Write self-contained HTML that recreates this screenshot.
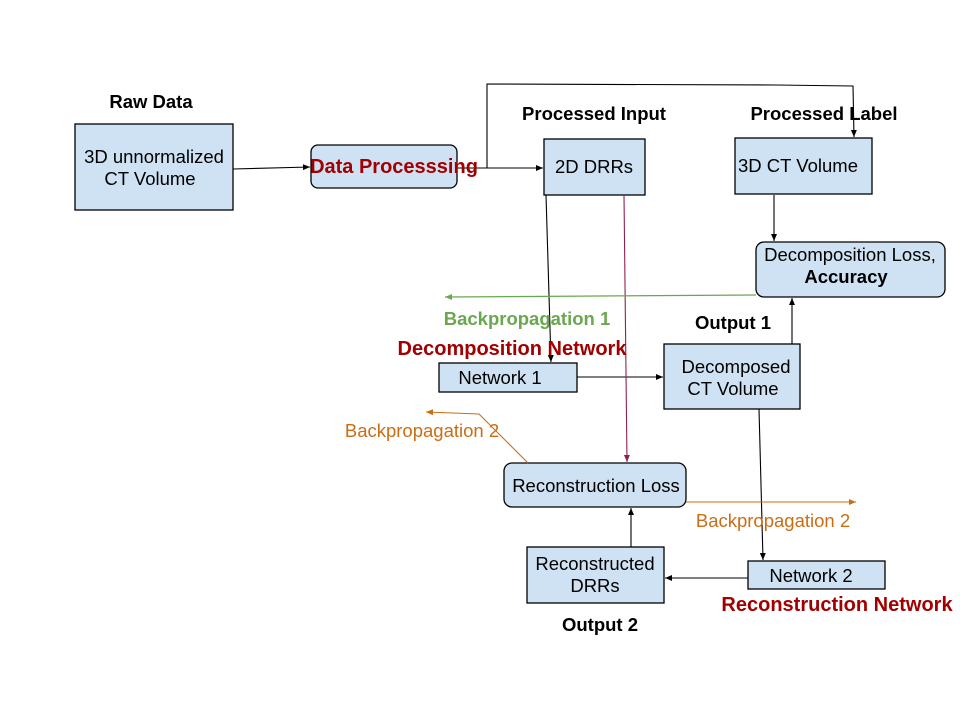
<!DOCTYPE html>
<html><head><meta charset="utf-8"><style>body{margin:0;background:#fff}svg{display:block}text{font-family:"Liberation Sans",sans-serif}</style></head><body>
<svg width="960" height="720" viewBox="0 0 960 720" xmlns="http://www.w3.org/2000/svg">
<defs>
<marker id="k" markerWidth="8" markerHeight="8" refX="7" refY="4" orient="auto" markerUnits="userSpaceOnUse"><path d="M0,1 L7,4 L0,7z" fill="#000"/></marker>
<marker id="g" markerWidth="8" markerHeight="8" refX="7" refY="4" orient="auto" markerUnits="userSpaceOnUse"><path d="M0,1 L7,4 L0,7z" fill="#6aa84f"/></marker>
<marker id="o" markerWidth="8" markerHeight="8" refX="7" refY="4" orient="auto" markerUnits="userSpaceOnUse"><path d="M0,1 L7,4 L0,7z" fill="#cc6d14"/></marker>
<marker id="m" markerWidth="8" markerHeight="8" refX="7" refY="4" orient="auto" markerUnits="userSpaceOnUse"><path d="M0,1 L7,4 L0,7z" fill="#8e2152"/></marker>
</defs>
<g fill="#cfe2f3" stroke="#000" stroke-width="1.3">
<rect x="75" y="124" width="158" height="86"/>
<rect x="311" y="145" width="146" height="43" rx="7"/>
<rect x="544" y="139" width="101" height="56"/>
<rect x="735" y="138" width="137" height="56"/>
<rect x="756" y="242" width="189" height="55" rx="8"/>
<rect x="439" y="363" width="138" height="29"/>
<rect x="664" y="344" width="136" height="65"/>
<rect x="504" y="463" width="182" height="44" rx="8"/>
<rect x="527" y="547" width="137" height="56"/>
<rect x="748" y="561" width="137" height="28"/>
</g>
<g stroke="#000" stroke-width="1.1" fill="none">
<line x1="233" y1="169" x2="310" y2="167" marker-end="url(#k)"/>
<line x1="457" y1="168" x2="543" y2="168" marker-end="url(#k)"/>
<polyline points="487,168 487,84 776,85 853,86 854,137" marker-end="url(#k)"/>
<line x1="774" y1="195" x2="774" y2="241" marker-end="url(#k)"/>
<line x1="546" y1="195" x2="551" y2="362" marker-end="url(#k)"/>
<line x1="577" y1="377" x2="663" y2="377" marker-end="url(#k)"/>
<line x1="792" y1="344" x2="792" y2="298" marker-end="url(#k)"/>
<line x1="759" y1="409" x2="763" y2="560" marker-end="url(#k)"/>
<line x1="748" y1="578" x2="665" y2="578" marker-end="url(#k)"/>
<line x1="631" y1="547" x2="631" y2="508" marker-end="url(#k)"/>
</g>
<line x1="624" y1="195" x2="627" y2="462" stroke="#8e2152" stroke-width="1.1" marker-end="url(#m)"/>
<line x1="756" y1="295" x2="445" y2="297" stroke="#6aa84f" stroke-width="1.2" marker-end="url(#g)"/>
<line x1="686" y1="502" x2="856" y2="502" stroke="#cc6d14" stroke-width="1.1" marker-end="url(#o)"/>
<polyline points="528,463 479,414 426,412" fill="none" stroke="#cc6d14" stroke-width="1.1" marker-end="url(#o)"/>
<g font-size="18.5" fill="#000" text-anchor="middle">
<text x="154" y="163">3D unnormalized</text>
<text x="150" y="185">CT Volume</text>
<text x="594" y="173">2D DRRs</text>
<text x="798" y="172">3D CT Volume</text>
<text x="850" y="261">Decomposition Loss,</text>
<text x="846" y="283" font-weight="bold">Accuracy</text>
<text x="500" y="384">Network 1</text>
<text x="736" y="373">Decomposed</text>
<text x="733" y="395">CT Volume</text>
<text x="596" y="492">Reconstruction Loss</text>
<text x="595" y="570">Reconstructed</text>
<text x="595" y="592">DRRs</text>
<text x="811" y="582">Network 2</text>
</g>
<g font-size="18.5" font-weight="bold" text-anchor="middle" fill="#000">
<text x="151" y="108">Raw Data</text>
<text x="594" y="120">Processed Input</text>
<text x="824" y="120">Processed Label</text>
<text x="733" y="329">Output 1</text>
<text x="600" y="631">Output 2</text>
</g>
<text x="394" y="173" font-size="20" font-weight="bold" fill="#a20000" text-anchor="middle">Data Processsing</text>
<text x="512" y="355" font-size="20" font-weight="bold" fill="#a20000" text-anchor="middle">Decomposition Network</text>
<text x="837" y="611" font-size="20" font-weight="bold" fill="#a20000" text-anchor="middle">Reconstruction Network</text>
<text x="527" y="325" font-size="18.5" font-weight="bold" fill="#6aa84f" text-anchor="middle">Backpropagation 1</text>
<text x="422" y="437" font-size="18.5" fill="#cc6d14" text-anchor="middle">Backpropagation 2</text>
<text x="773" y="527" font-size="18.5" fill="#cc6d14" text-anchor="middle">Backpropagation 2</text>
</svg>
</body></html>
